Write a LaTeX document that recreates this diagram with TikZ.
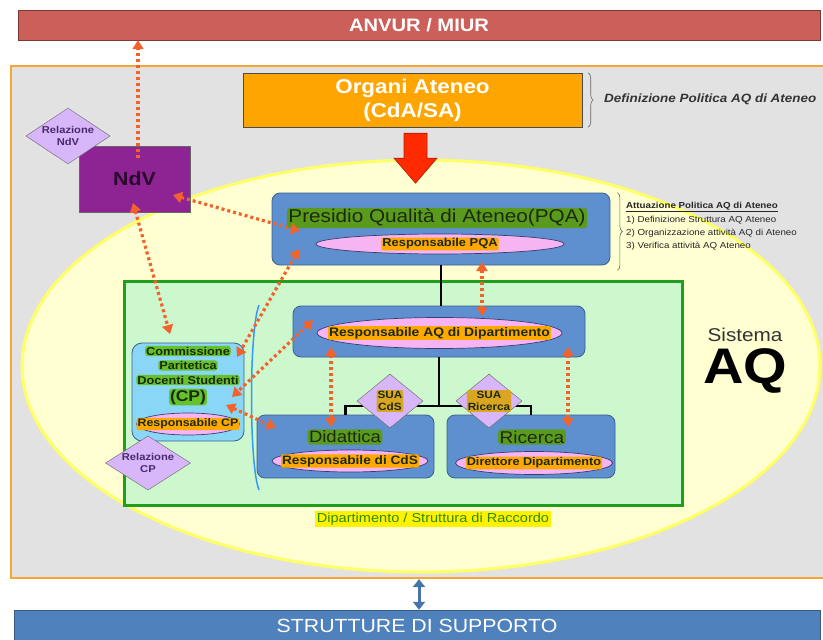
\documentclass[tikz,border=0pt]{standalone}
\usepackage{fontspec}
\setmainfont{Liberation Sans}[FakeStretch=1.12]
\usetikzlibrary{shapes.geometric,arrows.meta,decorations.pathreplacing,calc}
\newcommand{\myfs}[1]{\fontsize{#1}{\dimexpr#1pt*6/5\relax}\selectfont}
\definecolor{anvred}{HTML}{CD5F5A}
\definecolor{outerorange}{HTML}{F5A733}
\definecolor{outergray}{HTML}{E2E2E2}
\definecolor{ellyellow}{HTML}{FFFFD2}
\definecolor{ellborder}{HTML}{FFFF66}
\definecolor{organi}{HTML}{FFA500}
\definecolor{bigred}{HTML}{FF2A00}
\definecolor{ndvpurple}{HTML}{8E2494}
\definecolor{ndvtext}{HTML}{2A0A2A}
\definecolor{lav}{HTML}{D8B6FA}
\definecolor{lavtext}{HTML}{4A2A6A}
\definecolor{boxblue}{HTML}{5E8FCF}
\definecolor{boxborder}{HTML}{3B5F8F}
\definecolor{hlgreen}{HTML}{5A9A1C}
\definecolor{brgreen}{HTML}{66C22A}
\definecolor{ellpink}{HTML}{F6B5F2}
\definecolor{ellline}{HTML}{3C3C6E}
\definecolor{hlorange}{HTML}{FFA800}
\definecolor{suagold}{HTML}{DAA520}
\definecolor{dipgreen}{HTML}{CDF7CD}
\definecolor{dipborder}{HTML}{1EA01E}
\definecolor{cpblue}{HTML}{8AD6F7}
\definecolor{dotred}{HTML}{F2622A}
\definecolor{suppblue}{HTML}{4F81BD}
\definecolor{darktxt}{HTML}{1C2A10}
\definecolor{deptgreen}{HTML}{2E8B00}
\definecolor{bracketblue}{HTML}{3399FF}
\tikzset{
  bluebox/.style={draw=boxborder, fill=boxblue, rounded corners=8pt, line width=0.8pt, inner sep=0pt},
  hlg/.style={fill=hlgreen, rounded corners=3pt, inner sep=1.5pt, text=darktxt},
  hlb/.style={fill=brgreen, rounded corners=3pt, inner sep=1pt, text=darktxt, font=\bfseries\myfs{11.4}},
  hlo/.style={fill=hlorange, rounded corners=2pt, inner sep=1pt, text=darktxt, font=\bfseries\myfs{11.5}},
  pinkell/.style={ellipse, draw=ellline, fill=ellpink, line width=0.7pt, inner sep=0pt},
  lavdia/.style={diamond, draw=gray!80!black, fill=lav, inner sep=0pt, shape aspect=1.5, align=center, font=\bfseries\fontsize{10}{12}\selectfont, text=lavtext},
  suahl/.style={fill=suagold, inner sep=1pt, rounded corners=2pt, align=center, text=darktxt, font=\bfseries\fontsize{10.5}{12.5}\selectfont},
  dotarrow/.style={draw=dotred, line width=3.2pt, dash pattern=on 3pt off 3pt, {Triangle[length=9pt,width=11pt]}-{Triangle[length=9pt,width=11pt]}},
  dotone/.style={draw=dotred, line width=3.2pt, dash pattern=on 3pt off 3pt, -{Triangle[length=9pt,width=11pt]}},
  treeline/.style={line width=2.2pt, black},
}
\begin{document}
\begin{tikzpicture}[x=1pt,y=-1pt]
\useasboundingbox (0,0) rectangle (823,640);
\fill[white] (0,0) rectangle (823,640);

% top bar
\node[draw=anvred!60!black, fill=anvred, minimum width=802pt, minimum height=30pt, inner sep=0pt, text=white, font=\bfseries\myfs{18}] (anvur) at (419,25) {ANVUR / MIUR};

% outer orange frame
\node[draw=outerorange, line width=2.2pt, fill=outergray, minimum width=816pt, minimum height=512pt, inner sep=0pt] (outer) at (419,322) {};

% yellow ellipse
\node[ellipse, draw=ellborder, line width=3pt, fill=ellyellow, minimum width=798pt, minimum height=412pt, inner sep=0pt] (aq) at (421,366) {};

% bottom bar
\node[draw=suppblue!70!black, fill=suppblue, minimum width=806pt, minimum height=32pt, inner sep=0pt, text=white, font=\myfs{19}] (supp) at (417,626) {STRUTTURE DI SUPPORTO};
\draw[suppblue!90!black, line width=3pt, {Triangle[length=8pt,width=12pt]}-{Triangle[length=8pt,width=12pt]}] (outer.south) -- (outer.south |- supp.north);

% Organi Ateneo
\node[draw=black!70, fill=organi, minimum width=339pt, minimum height=54pt, inner sep=0pt, text=white, align=center, font=\bfseries\fontsize{20}{24}\selectfont] (organi) at (412.5,100) {Organi Ateneo\\(CdA/SA)};
\draw[decorate, decoration={brace, amplitude=5pt}, black!60, line width=0.6pt] ($(organi.north east)+(6,0)$) -- ($(organi.south east)+(6,0)$);
\node[anchor=west, inner sep=0pt, font=\bfseries\itshape\myfs{12}, text=black!80] (defpol) at (604,99) {Definizione Politica AQ di Ateneo};

% big red arrow
\path (organi.south) ++(3,6) coordinate (ra);
\draw[bigred!70!black, fill=bigred, line width=0.6pt] (ra) ++(-11.5,0) -- ++(23,0) -- ++(0,25) -- ++(10,0) -- ++(-21.5,25) -- ++(-21.5,-25) -- ++(10,0) -- cycle;

% NdV
\node[draw=black!60, fill=ndvpurple, minimum width=111pt, minimum height=66pt, inner sep=0pt, font=\bfseries\myfs{19}, text=ndvtext] (ndv) at (134.5,179) {NdV};
\node[lavdia, minimum width=84pt, minimum height=56pt] (relndv) at (68,136) {Relazione\\NdV};

% PQA
\node[bluebox, minimum width=338pt, minimum height=72pt] (pqa) at (441,229) {};
\node[hlg, font=\myfs{18.5}] (pqat) at (437,218) {Presidio Qualità di Ateneo(PQA)};
\node[pinkell, minimum width=248pt, minimum height=20pt] (pqaell) at (440,244) {};
\node[hlo] (pqar) at (pqaell) {Responsabile PQA};

% Attuazione brace and text
\draw[decorate, decoration={brace, amplitude=5pt}, black!60, line width=0.6pt] ($(pqa.north east)+(7,0)$) -- ($(pqa.south east)+(7,5)$);
\node[anchor=west, inner sep=0pt, font=\bfseries\myfs{8.7}, text=black!85] (att0) at (626,207) {\underline{Attuazione Politica AQ di Ateneo}};
\node[anchor=west, inner sep=0pt, font=\myfs{8.7}, text=black!85] (att1) at (626,220) {1) Definizione Struttura AQ Ateneo};
\node[anchor=west, inner sep=0pt, font=\myfs{8.7}, text=black!85] (att2) at (626,233) {2) Organizzazione attività AQ di Ateneo};
\node[anchor=west, inner sep=0pt, font=\myfs{8.7}, text=black!85] (att3) at (626,246) {3) Verifica attività AQ Ateneo};

% Sistema AQ
\node[font=\myfs{18.5}, text=black!80, inner sep=0pt] (sist) at (745,335) {Sistema};
\node[font=\bfseries\myfs{50}, text=black, inner sep=0pt] (aqt) at (745,371) {AQ};

% Department rectangle
\node[draw=dipborder, fill=dipgreen, line width=3pt, minimum width=558pt, minimum height=224pt, inner sep=0pt] (dept) at (403,393) {};
\node[fill=yellow, text=deptgreen, inner sep=1.5pt, font=\myfs{13}] (deptl) at (433,519) {Dipartimento / Struttura di Raccordo};

% Responsabile AQ di Dipartimento
\node[bluebox, minimum width=292pt, minimum height=51pt] (dip) at (439,331.5) {};
\node[pinkell, minimum width=245pt, minimum height=31pt] (dipell) at (439.5,333) {};
\node[hlo, font=\bfseries\myfs{12.4}] (dipr) at (dipell) {Responsabile AQ di Dipartimento};

% Didattica
\node[bluebox, minimum width=177pt, minimum height=63pt] (did) at (345.5,446.5) {};
\node[hlg, font=\myfs{16.5}] (didt) at (345,437) {Didattica};
\node[pinkell, minimum width=156pt, minimum height=22pt] (didell) at (350,461) {};
\node[hlo, font=\bfseries\myfs{12.2}] (didr) at (didell) {Responsabile di CdS};

% Ricerca
\node[bluebox, minimum width=168pt, minimum height=63pt] (ric) at (531,446.5) {};
\node[hlg, font=\myfs{17}] (rict) at (532,437) {Ricerca};
\node[pinkell, minimum width=157pt, minimum height=23pt] (ricell) at (534,463) {};
\node[hlo, font=\bfseries\myfs{11.3}] (ricr) at (ricell) {Direttore Dipartimento};

% tree lines
\draw[treeline] (pqa.south) -- (pqa.south |- dip.north);
\draw[treeline] (dip.south) -- ++(0,48.5) coordinate (jn);
\draw[treeline] (did.north) -- (did.north |- jn) -- (ric.north |- jn) -- (ric.north);

% SUA diamonds
\node[lavdia, minimum width=66pt, minimum height=54pt] (suacds) at (390,401) {};
\node[suahl] (suacdst) at (suacds) {SUA\\CdS};
\node[lavdia, minimum width=66pt, minimum height=54pt] (suaric) at (489,401) {};
\node[suahl] (suarict) at (suaric) {SUA\\Ricerca};

% CP
\node[draw=boxborder, fill=cpblue, rounded corners=10pt, line width=0.8pt, minimum width=112pt, minimum height=98pt, inner sep=0pt] (cp) at (188,392) {};
\node[hlb] (cp1) at (188,351) {Commissione};
\node[hlb] (cp2) at (188,365.5) {Paritetica};
\node[hlb] (cp3) at (188,380) {Docenti Studenti};
\node[hlb, font=\bfseries\myfs{15.6}] (cp4) at (188,397) {(CP)};
\node[pinkell, minimum width=103pt, minimum height=22pt] (cpell) at (188,424) {};
\node[hlo, font=\bfseries\myfs{11}] (cpr) at (cpell) {Responsabile CP};
\node[lavdia, minimum width=85pt, minimum height=54pt] (relcp) at (148,463) {Relazione\\CP};

% blue bracket
\draw[bracketblue, line width=1.5pt] (259,305) .. controls (249,330) and (249,465) .. (259,490);

% dotted connectors
\draw[dotone] ($(ndv.center)+(3.5,-21)$) coordinate (n1) -- (n1 |- anvur.south);
\draw[dotarrow] ($(ndv.center)+(38.5,16)$) -- ($(pqa.center)+(-141,2)$);
\draw[dotarrow] ($(ndv.center)+(-1.5,24)$) -- ($(cp.center)+(-18,-58)$);
\draw[dotarrow] ($(pqa.center)+(-142,20)$) -- ($(cp.center)+(49,-35)$);
\draw[dotarrow] ($(dip.center)+(-126,-11.5)$) -- ($(cp.center)+(44,5)$);
\draw[dotarrow] ($(cp.center)+(38,13)$) -- ($(did.center)+(-69.5,-18.5)$);
\draw[dotarrow] ($(pqa.center)+(41,33)$) -- ($(dip.center)+(43,-15.5)$);
\draw[dotarrow] ($(dip.center)+(-108,15.5)$) -- ($(did.center)+(-14.5,-19.5)$);
\draw[dotarrow] ($(dip.center)+(129,15.5)$) -- ($(ric.center)+(37,-19.5)$);
\end{tikzpicture}
\end{document}
